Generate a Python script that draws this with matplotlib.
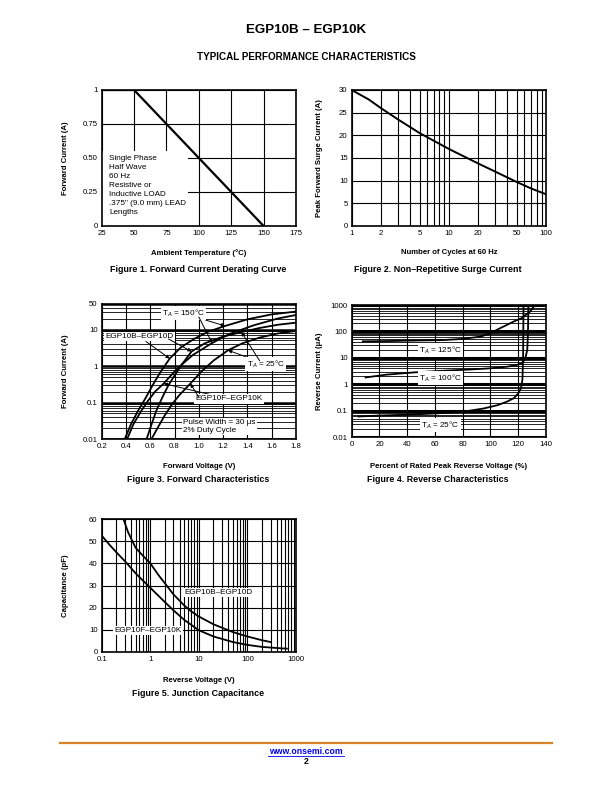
import numpy as np
import matplotlib.pyplot as plt
from matplotlib.ticker import LogLocator, NullFormatter
from matplotlib.lines import Line2D
from matplotlib.patches import Rectangle

plt.rcParams['font.family'] = ['Liberation Sans', 'DejaVu Sans']

# Figure 1 - derating curve
temp_c = [25, 50, 150]
derate_a = [1.0, 1.0, 0.0]

# Figure 2 - surge current
cycles = [1, 1.5, 2, 3, 5, 7, 10, 20, 30, 50, 70, 100]
surge_a = [30, 27.9, 26, 23.5, 20.5, 18.8, 17, 13.8, 12, 9.7, 8.3, 7]

# Figure 3 - forward characteristics
vf_150_bd = [0.39, 0.44, 0.50, 0.56, 0.62, 0.68, 0.76, 0.85, 0.96, 1.08, 1.216, 1.4, 1.6, 1.8]
if_150_bd = [0.01, 0.025, 0.06, 0.13, 0.3, 0.65, 1.6, 3.2, 5.5, 8.8, 12.5, 19, 26, 31]
vf_150_fk = [0.41, 0.46, 0.52, 0.58, 0.64, 0.71, 0.78, 0.86, 0.95, 1.106, 1.25, 1.45, 1.65, 1.8]
if_150_fk = [0.01, 0.025, 0.055, 0.11, 0.2, 0.33, 0.6, 1.1, 2.0, 4.2, 7.5, 13, 20, 25]
vf_25_bd = [0.57, 0.61, 0.65, 0.70, 0.75, 0.80, 0.86, 0.94, 1.05, 1.2, 1.35, 1.5, 1.65, 1.8]
if_25_bd = [0.01, 0.025, 0.06, 0.14, 0.3, 0.55, 1.1, 2.5, 4.2, 6.4, 8.5, 11, 13.5, 15.4]
vf_25_fk = [0.61, 0.66, 0.72, 0.78, 0.84, 0.93, 1.02, 1.12, 1.24, 1.36, 1.5, 1.65, 1.8]
if_25_fk = [0.01, 0.02, 0.045, 0.09, 0.16, 0.33, 0.7, 1.4, 2.7, 4.2, 6, 7.8, 9.1]

# Figure 4 - reverse characteristics
pct_125 = [8, 25, 45, 66, 80, 92.6, 100, 106, 111.7, 117, 122.5, 128.5, 132]
ir_125 = [42, 43, 45, 47, 52, 63, 85, 125, 175, 240, 317, 560, 1000]
pct_100 = [10, 25, 45, 64, 85, 100, 112, 118, 122.5, 125, 126.5, 127, 127.2, 127.3]
ir_100 = [1.8, 2.3, 2.8, 3.2, 3.6, 4.0, 4.6, 5.2, 6.1, 9, 20, 80, 400, 1000]
pct_25 = [5, 20, 40, 60, 80, 95, 105, 112, 117, 120, 122, 123, 123.5, 123.8]
ir_25 = [0.06, 0.065, 0.07, 0.078, 0.09, 0.12, 0.16, 0.22, 0.3, 0.45, 0.7, 1.5, 10, 1000]

# Figure 5 - junction capacitance
vr_bd = [0.28, 0.35, 0.5, 0.7, 1, 1.5, 2, 3, 5, 7, 10, 20, 50, 100, 200, 300]
cj_bd = [60, 54, 47, 43.5, 40, 34.5, 31, 26, 21, 18.3, 16, 12.5, 9, 7, 5.3, 4.5]
vr_fk = [0.1, 0.15, 0.2, 0.3, 0.5, 0.7, 1, 2, 3, 5, 10, 20, 50, 100, 200, 400, 650]
cj_fk = [52.5, 48, 45, 41, 35.5, 32.3, 29, 22.5, 18.8, 14.5, 9.8, 7, 4.5, 3.2, 2.3, 1.8, 1.5]

W, H = 612, 792
fig = plt.figure(figsize=(W / 100, H / 100), dpi=100)


def box(x0, y_top, x1, y_bot):
    return fig.add_axes([x0 / W, 1 - y_bot / H, (x1 - x0) / W, (y_bot - y_top) / H])


def style(ax, xlab, ylab, xl_y, yl_x):
    for s in ax.spines.values():
        s.set_linewidth(1.2)
    ax.tick_params(which='both', length=0, labelsize=5.6, pad=3)
    ax.set_xlabel(xlab, fontsize=5.6, fontweight='bold')
    ax.set_ylabel(ylab, fontsize=5.6, fontweight='bold')
    ax.xaxis.set_label_coords(0.5, xl_y)
    ax.yaxis.set_label_coords(yl_x, 0.5)
    ax.set_axisbelow(True)


def caption(x, y, s):
    fig.text(x / W, 1 - y / H, s, ha='center', va='center', fontsize=6.4, fontweight='bold')


white = dict(facecolor='white', edgecolor='none', pad=0.8)
arrow = dict(arrowstyle='-|>', color='k', lw=0.7, mutation_scale=5, shrinkA=0, shrinkB=0)
lab_fs = 5.9

fig.text(0.5, 1 - 30 / H, 'EGP10B – EGP10K', ha='center', va='center', fontsize=9.6, fontweight='bold')
fig.text(0.5, 1 - 57 / H, 'TYPICAL PERFORMANCE CHARACTERISTICS', ha='center', va='center',
         fontsize=7.1, fontweight='bold')

# ---------- Figure 1
ax1 = box(101.7, 90, 296, 226)
ax1.plot(temp_c, derate_a, color='k', lw=1.6, zorder=3)
ax1.set_xlim(25, 175)
ax1.set_ylim(0, 1)
ax1.set_xticks([25, 50, 75, 100, 125, 150, 175])
ax1.set_yticks([0, 0.25, 0.5, 0.75, 1])
ax1.set_yticklabels(['0', '0.25', '0.50', '0.75', '1'])
ax1.grid(True, color='k', lw=0.8)
ax1.add_patch(Rectangle((25, 0), 67, 0.55, facecolor='white', edgecolor='none', zorder=1.5))
ax1.text(31, 0.525, 'Single Phase\nHalf Wave\n60 Hz\nResistive or\nInductive LOAD\n.375" (9.0 mm) LEAD\nLengths',
         fontsize=lab_fs, va='top', ha='left', linespacing=1.42, zorder=4)
style(ax1, 'Ambient Temperature (°C)', 'Forward Current (A)', -0.17, -0.17)
caption(198, 269, 'Figure 1. Forward Current Derating Curve')

# ---------- Figure 2
ax2 = box(351.7, 90, 546, 226)
ax2.plot(cycles, surge_a, color='k', lw=1.4, zorder=3)
ax2.set_xscale('log')
ax2.set_xlim(1, 100)
ax2.set_ylim(0, 30)
ax2.set_xticks([1, 2, 5, 10, 20, 50, 100])
ax2.set_xticklabels(['1', '2', '5', '10', '20', '50', '100'])
ax2.xaxis.set_minor_locator(LogLocator(subs=np.arange(2, 10)))
ax2.xaxis.set_minor_formatter(NullFormatter())
ax2.set_yticks(range(0, 31, 5))
ax2.grid(True, which='both', color='k', lw=0.8)
style(ax2, 'Number of Cycles at 60 Hz', 'Peak Forward Surge Current (A)', -0.17, -0.15)
caption(438, 269, 'Figure 2. Non–Repetitive Surge Current')

# ---------- Figure 3
ax3 = box(101.7, 304, 296, 439)
for v, i in [(vf_150_bd, if_150_bd), (vf_150_fk, if_150_fk), (vf_25_bd, if_25_bd), (vf_25_fk, if_25_fk)]:
    ax3.plot(v, i, color='k', lw=1.3, zorder=3)
ax3.set_yscale('log')
ax3.set_xlim(0.2, 1.8)
ax3.set_ylim(0.01, 50)
ax3.set_xticks(np.arange(0.2, 1.81, 0.2))
ax3.set_xticklabels(['0.2', '0.4', '0.6', '0.8', '1.0', '1.2', '1.4', '1.6', '1.8'])
ax3.set_yticks([0.01, 0.1, 1, 10, 50])
ax3.set_yticklabels(['0.01', '0.1', '1', '10', '50'])
ax3.yaxis.set_minor_locator(LogLocator(subs=np.arange(2, 10)))
ax3.yaxis.set_minor_formatter(NullFormatter())
ax3.grid(True, which='major', axis='x', color='k', lw=0.8)
ax3.grid(True, which='major', axis='y', color='k', lw=1.8)
ax3.grid(True, which='minor', axis='y', color='k', lw=0.6)
ax3.annotate('T$_A$ = 150°C', xy=(1.216, 12.5), xytext=(0.87, 28), fontsize=lab_fs, ha='center', va='center',
             bbox=white, arrowprops=arrow, zorder=5)
ax3.annotate('', xy=(1.11, 4.2), xytext=(1.0, 22), arrowprops=arrow, zorder=5)
ax3.annotate('EGP10B–EGP10D', xy=(0.76, 1.6), xytext=(0.23, 6.3), fontsize=lab_fs, ha='left', va='center',
             bbox=white, arrowprops=arrow, zorder=5)
ax3.annotate('', xy=(0.94, 2.5), xytext=(0.75, 5.5), arrowprops=arrow, zorder=5)
ax3.annotate('T$_A$ = 25°C', xy=(1.24, 2.7), xytext=(1.55, 1.13), fontsize=lab_fs, ha='center', va='center',
             bbox=white, arrowprops=arrow, zorder=5)
ax3.annotate('', xy=(1.35, 8.5), xytext=(1.5, 1.4), arrowprops=arrow, zorder=5)
ax3.annotate('EGP10F–EGP10K', xy=(0.71, 0.33), xytext=(1.25, 0.125), fontsize=lab_fs, ha='center', va='center',
             bbox=white, arrowprops=arrow, zorder=5)
ax3.annotate('', xy=(0.93, 0.33), xytext=(1.0, 0.14), arrowprops=arrow, zorder=5)
ax3.text(0.87, 0.022, 'Pulse Width = 30 μs\n2% Duty Cycle', fontsize=lab_fs, ha='left', va='center',
         linespacing=1.3, bbox=white, zorder=5)
style(ax3, 'Forward Voltage (V)', 'Forward Current (A)', -0.18, -0.17)
caption(198, 480, 'Figure 3. Forward Characteristics')

# ---------- Figure 4
ax4 = box(351.7, 305, 546, 437)
for p, i in [(pct_125, ir_125), (pct_100, ir_100), (pct_25, ir_25)]:
    ax4.plot(p, i, color='k', lw=1.3, zorder=3)
ax4.set_yscale('log')
ax4.set_xlim(0, 140)
ax4.set_ylim(0.01, 1000)
ax4.set_xticks(range(0, 141, 20))
ax4.set_yticks([0.01, 0.1, 1, 10, 100, 1000])
ax4.set_yticklabels(['0.01', '0.1', '1', '10', '100', '1000'])
ax4.yaxis.set_minor_locator(LogLocator(subs=np.arange(2, 10)))
ax4.yaxis.set_minor_formatter(NullFormatter())
ax4.grid(True, which='major', axis='x', color='k', lw=0.8)
ax4.grid(True, which='major', axis='y', color='k', lw=2.2)
ax4.grid(True, which='minor', axis='y', color='k', lw=0.6)
for lab, yv in [('T$_A$ = 125°C', 20), ('T$_A$ = 100°C', 1.7), ('T$_A$ = 25°C', 0.028)]:
    ax4.text(64, yv, lab, fontsize=lab_fs, ha='center', va='center', bbox=white, zorder=5)
style(ax4, 'Percent of Rated Peak Reverse Voltage (%)', 'Reverse Current (μA)', -0.2, -0.15)
caption(438, 480, 'Figure 4. Reverse Characteristics')

# ---------- Figure 5
ax5 = box(101.7, 519, 296, 652)
ax5.plot(vr_bd, cj_bd, color='k', lw=1.3, zorder=3)
ax5.plot(vr_fk, cj_fk, color='k', lw=1.3, zorder=3)
ax5.set_xscale('log')
ax5.set_xlim(0.1, 1000)
ax5.set_ylim(0, 60)
ax5.set_xticks([0.1, 1, 10, 100, 1000])
ax5.set_xticklabels(['0.1', '1', '10', '100', '1000'])
ax5.xaxis.set_minor_locator(LogLocator(subs=np.arange(2, 10)))
ax5.xaxis.set_minor_formatter(NullFormatter())
ax5.set_yticks(range(0, 61, 10))
ax5.grid(True, which='both', color='k', lw=0.8)
ax5.text(25, 27, 'EGP10B–EGP10D', fontsize=lab_fs, ha='center', va='center', bbox=white, zorder=5)
ax5.text(0.9, 9.6, 'EGP10F–EGP10K', fontsize=lab_fs, ha='center', va='center', bbox=white, zorder=5)
style(ax5, 'Reverse Voltage (V)', 'Capacitance (pF)', -0.19, -0.17)
caption(198, 693, 'Figure 5. Junction Capacitance')

# ---------- footer
fig.add_artist(Line2D([60 / W, 552 / W], [1 - 743 / H] * 2, color='#D9822B', lw=1.6))
fig.text(0.5, 1 - 752 / H, 'www.onsemi.com', ha='center', va='center', fontsize=6.3, fontweight='bold',
         color='#0000EE')
fig.add_artist(Line2D([268 / W, 344 / W], [1 - 756 / H] * 2, color='#0000EE', lw=0.6))
fig.text(0.5, 1 - 762 / H, '2', ha='center', va='center', fontsize=6.3, fontweight='bold')

fig.savefig('out.png', dpi=100, facecolor='white')
